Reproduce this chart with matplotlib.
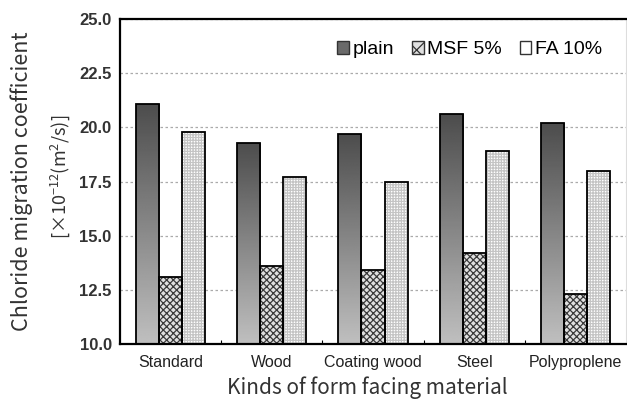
import matplotlib
matplotlib.use("Agg")
import matplotlib.pyplot as plt
from matplotlib.patches import Patch
import numpy as np

categories = ["Standard", "Wood", "Coating wood", "Steel", "Polyproplene"]
plain = [21.1, 19.3, 19.7, 20.6, 20.2]
msf5 = [13.1, 13.6, 13.4, 14.2, 12.3]
fa10 = [19.8, 17.7, 17.5, 18.9, 18.0]
series_names = ["plain", "MSF 5%", "FA 10%"]
yticks = [10.0, 12.5, 15.0, 17.5, 20.0, 22.5, 25.0]

plt.rcParams["font.family"] = ["Liberation Sans", "DejaVu Sans"]
plt.rcParams["hatch.linewidth"] = 0.9
plt.rcParams["mathtext.fontset"] = "custom"
plt.rcParams["mathtext.rm"] = "Noto Sans CJK KR"
plt.rcParams["mathtext.it"] = "Noto Sans CJK KR"
plt.rcParams["mathtext.default"] = "rm"

fig = plt.figure(figsize=(6.27, 4.03), dpi=100)
ax = fig.add_axes([120 / 627, 59 / 403, 506 / 627, 325 / 403])

x = np.arange(len(categories))
w = 0.228
base = 10.0

# plain: vertical gray gradient clipped to each bar
grad = np.linspace(0.75, 0.30, 256).reshape(-1, 1)
bars = ax.bar(x - w, np.array(plain) - base, w, bottom=base,
              facecolor="none", edgecolor="black", linewidth=1.3, zorder=3)
for b in bars:
    x0, y0 = b.get_x(), b.get_y()
    im = ax.imshow(grad, cmap="gray", vmin=0, vmax=1, aspect="auto",
                   extent=[x0, x0 + b.get_width(), y0, y0 + b.get_height()],
                   origin="lower", zorder=2, interpolation="bilinear")
    im.set_clip_path(b)

# MSF 5%: dense checker hatch
ax.bar(x, np.array(msf5) - base, w, bottom=base, facecolor="#e0e0e0",
       edgecolor="#3a3a3a", hatch="xxxxx", linewidth=0, zorder=2)
ax.bar(x, np.array(msf5) - base, w, bottom=base, facecolor="none",
       edgecolor="black", linewidth=1.3, zorder=3)

# FA 10%: fine light grid
ax.bar(x + w, np.array(fa10) - base, w, bottom=base, facecolor="white",
       edgecolor="#c4c4c4", hatch="++++++", linewidth=0, zorder=2)
ax.bar(x + w, np.array(fa10) - base, w, bottom=base, facecolor="none",
       edgecolor="black", linewidth=1.3, zorder=3)

ax.set_xlim(-0.5, len(categories) - 0.5)
ax.set_ylim(10, 25)
ax.set_yticks(yticks)
ax.set_yticklabels([f"{v:.1f}" for v in yticks], fontsize=12, fontweight="bold",
                   color="#333333")
ax.set_xticks(x)
ax.set_xticklabels(categories, fontsize=11.5, color="#222222")
ax.set_xticks(np.arange(0.5, len(categories) - 0.5), minor=True)
ax.tick_params(axis="x", which="major", length=0, pad=8)
ax.tick_params(axis="x", which="minor", direction="in", length=3, width=0.8)
ax.tick_params(axis="y", length=0, pad=6)

ax.yaxis.grid(True, linestyle=(0, (2, 2)), color="#aaaaaa", linewidth=0.9, zorder=0)
ax.set_axisbelow(True)

for side in ["left", "bottom", "top"]:
    ax.spines[side].set_linewidth(1.6)
    ax.spines[side].set_color("black")
ax.spines["right"].set_color("#dddddd")
ax.spines["right"].set_linewidth(0.8)

label_font = ["Noto Sans CJK KR", "DejaVu Sans"]
fig.text(22 / 627, 1 - 181 / 403, "Chloride migration coefficient", rotation=90,
         ha="center", va="center", fontsize=15.5, color="#333333", family=label_font)
fig.text(60 / 627, 1 - 177 / 403, r"[×10$^{-12}$(m$^{2}$/s)]", rotation=90,
         ha="center", va="center", fontsize=13, color="#333333", family=label_font)
fig.text(367 / 627, 1 - 388 / 403, "Kinds of form facing material",
         ha="center", va="center", fontsize=15, color="#333333", family=label_font)

handles = [
    Patch(facecolor="#6a6a6a", edgecolor="#333333", linewidth=1.0),
    Patch(facecolor="#e0e0e0", edgecolor="#333333", hatch="xx", linewidth=1.0),
    Patch(facecolor="white", edgecolor="#333333", linewidth=1.0),
]
ax.legend(handles, series_names, loc="upper right", bbox_to_anchor=(0.988, 0.985),
          ncol=3, frameon=False, fontsize=14, handlelength=0.6, handleheight=0.6,
          handletextpad=0.2, columnspacing=0.9)

fig.savefig("out.png", dpi=100)
